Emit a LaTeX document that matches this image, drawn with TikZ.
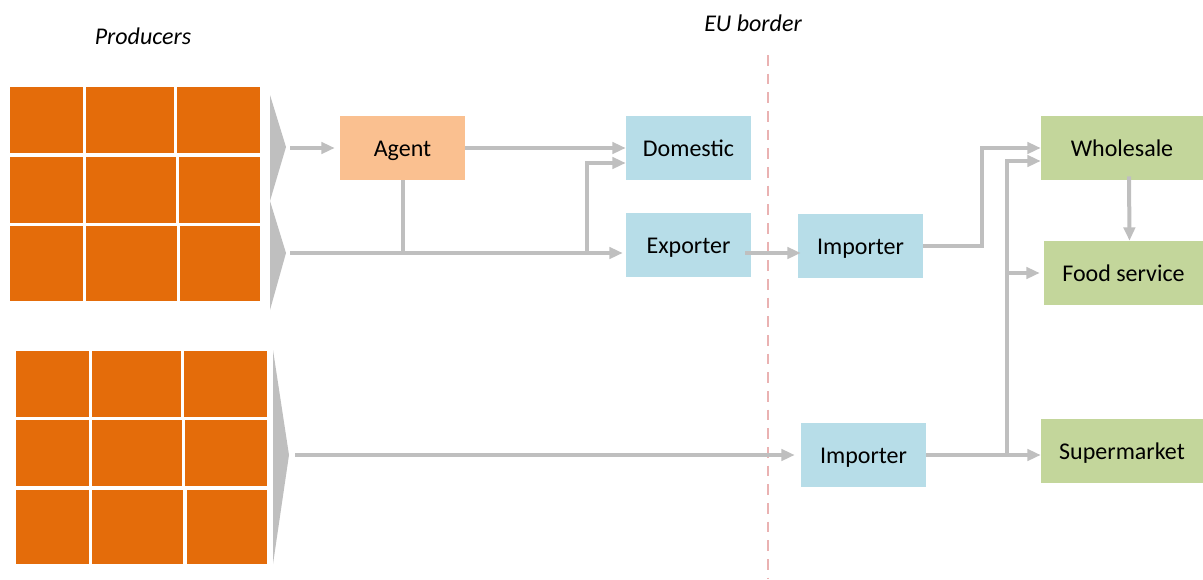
\documentclass[tikz,border=0pt]{standalone}
\usepackage{fontspec}
\setmainfont{Carlito}
\usetikzlibrary{arrows.meta,calc}
\definecolor{cellorange}{HTML}{E46C0A}
\definecolor{agentfill}{HTML}{FAC090}
\definecolor{bluefill}{HTML}{B7DDE8}
\definecolor{greenfill}{HTML}{C3D69B}
\definecolor{arrgray}{HTML}{BFBFBF}
\definecolor{borderpink}{HTML}{EAB2B2}
\tikzset{
  boxnode/.style={rectangle, inner sep=0pt, minimum width=125*0.75pt, minimum height=64*0.75pt, font=\fontsize{18}{20}\selectfont, text height=13.5pt, text depth=1pt},
  bluebox/.style={boxnode, fill=bluefill},
  greenbox/.style={boxnode, fill=greenfill, minimum width=162*0.75pt},
  agentbox/.style={boxnode, fill=agentfill},
  cell/.style={fill=cellorange},
  chev/.style={fill=arrgray},
  conn/.style={draw=arrgray, line width=3pt},
  arr/.style={conn, -{Triangle[length=10pt, width=8.5pt]}},
  border/.style={draw=borderpink, line width=2.2pt, dash pattern=on 8pt off 6pt},
  label/.style={font=\fontsize{18}{20}\selectfont\itshape}
}
\begin{document}
\begin{tikzpicture}[x=0.75pt,y=-0.75pt]
\useasboundingbox (0,0) rectangle (1203,579);

% top producer grid
\fill[cell] (10,87) rectangle (83,153);
\fill[cell] (86,87) rectangle (174,153);
\fill[cell] (177,87) rectangle (260,153);
\fill[cell] (10,157) rectangle (83,223);
\fill[cell] (86,157) rectangle (176,223);
\fill[cell] (179,157) rectangle (260,223);
\fill[cell] (10,226) rectangle (83,301);
\fill[cell] (86,226) rectangle (177,301);
\fill[cell] (180,226) rectangle (260,301);
% bottom producer grid
\fill[cell] (16,351) rectangle (89,417);
\fill[cell] (92,351) rectangle (181,417);
\fill[cell] (184,351) rectangle (267,417);
\fill[cell] (16,420) rectangle (89,486);
\fill[cell] (92,420) rectangle (182,486);
\fill[cell] (185,420) rectangle (267,486);
\fill[cell] (16,490) rectangle (89,564);
\fill[cell] (92,490) rectangle (183,564);
\fill[cell] (187,490) rectangle (267,564);

% chevrons
\fill[chev] (270,95) -- (286,147) -- (270,201) -- cycle;
\fill[chev] (270,201) -- (286,253) -- (270,310) -- cycle;
\fill[chev] (273,350) -- (289,455) -- (273,564) -- cycle;
\coordinate (c1) at (286,148);
\coordinate (c2) at (286,253);
\coordinate (c3) at (289,455);

% labels
\node[label] (prod) at (143,36) {Producers};
\node[label] (eu) at (753,23) {EU border};

% EU border
\coordinate (b1) at (768,55);
\coordinate (b2) at (768,579);
\draw[border] (b1) -- (b2);

% boxes
\node[agentbox] (agent) at (402.5,148) {Agent};
\node[bluebox] (dom) at (688.5,148) {Domestic};
\node[bluebox] (exp) at (688.5,245) {Exporter};
\node[bluebox] (imp1) at (860.5,246) {Importer};
\node[bluebox] (imp2) at (863.5,455) {Importer};
\node[greenbox] (whole) at (1122,148) {Wholesale};
\node[greenbox, minimum width=159*0.75pt] (food) at (1123.5,273) {Food service};
\node[greenbox] (super) at (1122,451) {Supermarket};

% connectors
\coordinate (j1) at (587,253);
\coordinate (j2) at (1007,455);
\draw[arr] ($(c1)+(4,0)$) -- ($(agent.west)+(-5,0)$);
\draw[arr] (agent.east) -- (dom.west);
\draw[arr] ($(c2)+(4,0)$) -- ($(c2 -| exp.west)+(-3,0)$);
\draw[conn] (agent.south) -- (agent.south |- c2);
\draw[arr] (j1) |- ($(dom.west)+(0,15)$);
\draw[arr] ($(exp.east)+(-6,8)$) -- ($(imp1.west)+(3,7)$);
\draw[arr] (imp1.east) -- ++(59,0) |- (whole.west);
\draw[arr] (j2) |- ($(whole.west)+(0,13)$);
\draw[arr] (j2 |- food.west) -- ($(food.west)+(-4,0)$);
\draw[arr] ($(c3)+(6,0)$) -- ($(imp2.west)+(-6,0)$);
\draw[arr] (imp2.east) -- (imp2.east -| super.west);
\draw[arr] ($(whole.south)+(7,-4)$) -- ($(food.north)+(6,0)$);
\end{tikzpicture}
\end{document}
